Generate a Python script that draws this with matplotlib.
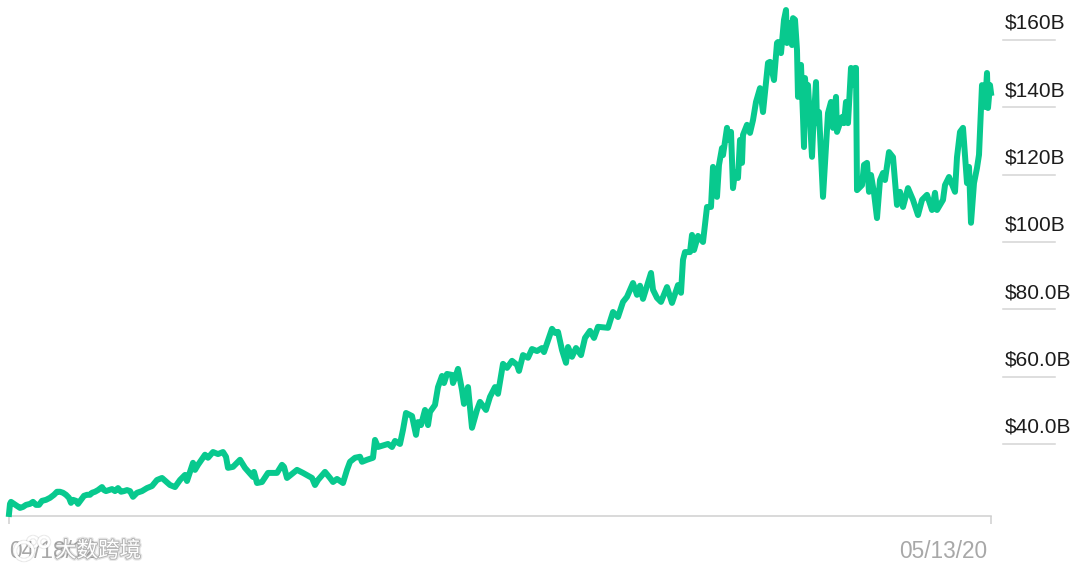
import matplotlib
matplotlib.use("Agg")
import matplotlib.pyplot as plt
import matplotlib.patheffects as pe
from matplotlib.patches import Circle

plt.rcParams['font.family'] = ['Liberation Sans', 'Noto Sans CJK SC', 'DejaVu Sans']

# position along the time axis (0 = first date, 982 = last date)
steps = [0, 1, 2, 5, 8, 11, 14, 17, 21, 24,
         27, 30, 33, 37, 41, 45, 48, 51, 54, 57,
         60, 62, 64, 67, 69, 72, 75, 78, 81, 83,
         86, 89, 93, 95, 97, 100, 103, 106, 109, 112,
         115, 118, 121, 124, 128, 133, 138, 143, 148, 153,
         161, 166, 171, 176, 178, 184, 186, 189, 196, 199,
         204, 209, 214, 217, 219, 224, 231, 236, 244, 245,
         248, 253, 259, 268, 273, 275, 278, 288, 294, 303,
         306, 309, 316, 321, 324, 328, 334, 338, 341, 346,
         351, 353, 358, 364, 366, 369, 379, 383, 386, 391,
         394, 397, 403, 407, 409, 412, 416, 419, 421, 426,
         429, 433, 435, 438, 443, 444, 446, 449, 453, 455,
         459, 463, 468, 471, 477, 481, 486, 489, 494, 498,
         503, 508, 510, 514, 519, 523, 528, 533, 535, 543,
         546, 549, 553, 557, 559, 563, 567, 572, 576, 581,
         585, 589, 599, 604, 609, 614, 618, 624, 628, 631,
         634, 642, 644, 648, 652, 658, 663, 669, 672, 674,
         676, 681, 683, 685, 689, 694, 698, 702, 704, 708,
         710, 713, 714, 718, 719, 722, 724, 726, 729, 731,
         733, 734, 738, 741, 744, 747, 751, 754, 759, 761,
         765, 768, 769, 772, 775, 777, 778, 781, 783, 784,
         786, 788, 789, 792, 794, 795, 796, 798, 799, 803,
         804, 807, 808, 810, 814, 819, 822, 824, 827, 828,
         833, 835, 837, 839, 842, 844, 846, 847, 848, 853,
         855, 858, 860, 862, 865, 868, 871, 874, 876, 880,
         884, 888, 891, 894, 899, 904, 909, 913, 918, 923,
         926, 928, 934, 936, 940, 946, 948, 951, 954, 958,
         960, 962, 965, 968, 970, 973, 976, 978, 979, 981,
         982]
market_cap = [19.2, 22.2, 22.8, 22.2, 21.6, 21.0, 21.3, 21.9, 22.2, 22.8,
              21.9, 21.9, 23.1, 23.4, 24.0, 24.9, 25.8, 25.8, 25.5, 24.9,
              24.0, 22.5, 23.4, 23.1, 22.2, 23.4, 24.6, 24.9, 24.9, 25.5,
              25.8, 26.3, 27.2, 26.3, 26.0, 26.3, 26.6, 26.0, 26.9, 25.8,
              26.0, 26.3, 26.0, 24.3, 25.5, 26.0, 26.9, 27.5, 29.3, 29.9,
              27.8, 27.2, 29.3, 30.8, 29.0, 34.4, 32.3, 33.8, 36.8, 35.9,
              37.6, 37.0, 37.6, 36.2, 32.9, 33.2, 35.3, 32.9, 30.2, 31.7,
              28.4, 28.7, 31.4, 31.4, 33.8, 33.2, 29.9, 32.3, 31.4, 29.9,
              27.8, 29.3, 31.7, 29.9, 28.7, 29.6, 28.4, 32.3, 34.7, 35.9,
              36.2, 34.7, 35.3, 35.9, 41.2, 39.1, 40.0, 39.1, 40.9, 40.0,
              44.2, 49.2, 48.3, 42.7, 46.5, 45.6, 50.1, 45.6, 49.5, 51.6,
              56.9, 60.2, 58.1, 60.8, 60.5, 58.1, 59.6, 62.3, 56.0, 51.9,
              56.9, 44.8, 50.1, 52.5, 50.1, 54.0, 56.9, 54.9, 63.8, 62.6,
              64.7, 63.5, 61.7, 66.4, 65.6, 68.2, 67.6, 68.5, 67.3, 74.2,
              73.0, 73.3, 67.9, 64.1, 68.8, 65.9, 68.5, 66.4, 71.5, 73.6,
              71.5, 74.8, 74.5, 79.2, 77.7, 82.2, 83.7, 87.8, 84.3, 87.0,
              83.1, 90.8, 85.8, 83.4, 82.2, 86.6, 81.9, 87.2, 84.9, 94.7,
              97.0, 97.0, 102.1, 97.6, 101.8, 100.0, 110.4, 110.4, 122.3, 113.4,
              122.9, 127.9, 125.8, 133.9, 130.3, 132.7, 116.0, 120.8, 119.0, 130.3,
              123.5, 131.8, 134.8, 132.4, 136.2, 141.6, 145.7, 138.6, 153.2, 153.5,
              148.1, 159.1, 159.4, 156.1, 166.0, 168.9, 159.1, 165.1, 158.5, 166.5,
              166.0, 157.0, 143.1, 152.6, 137.1, 128.2, 148.7, 140.1, 146.6, 125.3,
              132.4, 147.5, 135.3, 138.6, 113.4, 138.3, 141.6, 133.9, 143.1, 132.7,
              137.1, 135.3, 141.6, 135.3, 151.7, 146.6, 151.7, 151.7, 115.4, 116.9,
              122.9, 123.5, 114.9, 119.9, 114.6, 107.1, 118.4, 120.5, 118.4, 126.7,
              125.2, 111.0, 114.9, 110.4, 116.0, 112.5, 108.0, 112.5, 114.0, 109.5,
              114.6, 109.5, 112.5, 116.9, 119.3, 114.9, 125.2, 132.7, 133.9, 117.5,
              122.3, 105.7, 117.5, 122.0, 125.9, 146.6, 140.1, 150.2, 139.8, 146.6,
              144.3]
y_ticks = [160, 140, 120, 100, 80, 60, 40]
y_labels = ['$160B', '$140B', '$120B', '$100B', '$80.0B', '$60.0B', '$40.0B']
date_labels = ['04/18/12', '05/13/20']

fig = plt.figure(figsize=(10.8, 5.69), dpi=100)
ax = fig.add_axes([9 / 1080, 53 / 569, 982 / 1080, 516 / 569])
ax.set_xlim(0, 982)
ax.set_ylim(18.6, 171.88)
for s in ['top', 'left', 'right']:
    ax.spines[s].set_visible(False)
ax.spines['bottom'].set_color('#cfcfcf')
ax.spines['bottom'].set_linewidth(1.1)
ax.set_yticks([])

ax.set_xticks([0, 982])
ax.set_xticklabels(['', ''])
ax.tick_params(axis='x', length=6, width=1.1, color='#cfcfcf')

ax.plot(steps, market_cap, color='#08c98e', lw=4.3, solid_joinstyle='round', clip_on=False, zorder=3)

# y gridlines only live to the right of the plot, labels sit on top of them
trans = ax.get_yaxis_transform()
for v, lab in zip(y_ticks, y_labels):
    ax.plot([1.0125, 1.0655], [v, v], transform=trans, color='#d4d4d4', lw=1.1, clip_on=False)
    ax.annotate(lab, xy=(1.0145, v), xycoords=trans, xytext=(0, 8), textcoords='offset points',
                fontsize=15, color='#1c1c1c', ha='left', va='baseline', annotation_clip=False)

fig.text(9 / 1080, 1 - 558 / 569, date_labels[0], fontsize=16.3, color='#a8a8a8', ha='left', va='baseline')
fig.text(987 / 1080, 1 - 558 / 569, date_labels[1], fontsize=16.3, color='#a8a8a8', ha='right', va='baseline')

# watermark over the first date
halo = [pe.withStroke(linewidth=3.2, foreground='#00000018'), pe.withStroke(linewidth=1.4, foreground='#b4b4b4')]
fig.text(55 / 1080, 1 - 557 / 569, '大数跨境', fontsize=15.5, color='white', ha='left', va='baseline',
         path_effects=halo, zorder=10)
for cx, cy, r in [(33, 542, 5), (44, 542, 5), (24, 551, 9)]:
    c = Circle((cx, 569 - cy), r, transform=None, fill=False, ec='white', lw=1.8,
               path_effects=halo, zorder=10)
    fig.add_artist(c)

fig.savefig('out.png', dpi=100)
